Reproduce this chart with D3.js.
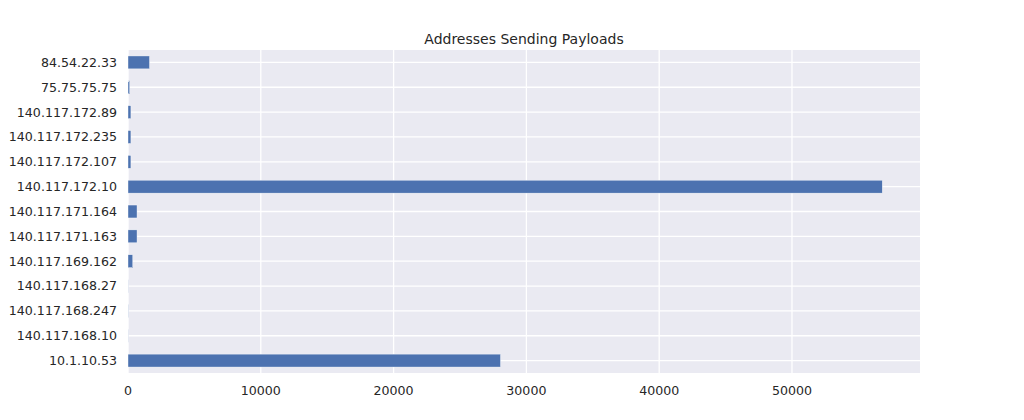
<!DOCTYPE html>
<html>
<head>
<meta charset="utf-8">
<script src="https://cdn.jsdelivr.net/npm/d3@7"></script>
<style>
  body { margin: 0; background: #fff; }
  text { font-family: "DejaVu Sans", sans-serif; fill: #262626; }
</style>
</head>
<body>
<svg id="chart" width="1024" height="420"></svg>
<script>
// addresses, bottom to top as in the picture
const addresses = ["10.1.10.53", "140.117.168.10", "140.117.168.247", "140.117.168.27",
  "140.117.169.162", "140.117.171.163", "140.117.171.164", "140.117.172.10",
  "140.117.172.107", "140.117.172.235", "140.117.172.89", "75.75.75.75", "84.54.22.33"];
const payloads = [28050, 15, 20, 15, 360, 680, 680, 56800, 220, 220, 220, 130, 1620];
const xTicks = [0, 10000, 20000, 30000, 40000, 50000];

let svg = d3.select("#chart"),
    margin = {top: 50, right: 104, bottom: 47, left: 128},
    width = 1024 - margin.left - margin.right,
    height = 420 - margin.top - margin.bottom,
    bar_color = "#4C72B0",
    bg_color = "#EAEAF2";

svg.append("text")
   .attr("x", margin.left + width / 2)
   .attr("y", 44)
   .attr("text-anchor", "middle")
   .style("font-size", "14px")
   .text("Addresses Sending Payloads");

let g = svg.append("g").attr("transform", "translate(" + margin.left + "," + margin.top + ")");

let x = d3.scaleLinear()
          .domain([0, d3.max(payloads) * 1.05])
          .range([0, width]);

// categories sit at integer positions, limits at -0.5 and n-0.5
let n = addresses.length;
let y = d3.scaleLinear()
          .domain([-0.5, n - 0.5])
          .range([height, 0]);
let step = height / n;

g.append("rect")
 .attr("width", width)
 .attr("height", height)
 .attr("fill", bg_color);

g.selectAll(".vgrid")
 .data(xTicks)
 .enter().append("line")
 .attr("class", "vgrid")
 .attr("x1", d => x(d)).attr("x2", d => x(d))
 .attr("y1", 0).attr("y2", height)
 .attr("stroke", "#fff")
 .attr("stroke-width", 1.3);

g.selectAll(".hgrid")
 .data(addresses)
 .enter().append("line")
 .attr("class", "hgrid")
 .attr("x1", 0).attr("x2", width)
 .attr("y1", (d, i) => y(i)).attr("y2", (d, i) => y(i))
 .attr("stroke", "#fff")
 .attr("stroke-width", 1.3);

g.selectAll(".bar")
 .data(payloads)
 .enter().append("rect")
 .attr("class", "bar")
 .attr("x", x(0))
 .attr("y", (d, i) => y(i) - step * 0.26)
 .attr("width", d => x(d) - x(0))
 .attr("height", step * 0.52)
 .attr("fill", bar_color)
 .attr("stroke", "#fff")
 .attr("stroke-width", 0.4);

// y labels
g.selectAll(".ylab")
 .data(addresses)
 .enter().append("text")
 .attr("class", "ylab")
 .attr("x", -11)
 .attr("y", (d, i) => y(i))
 .attr("dy", "0.35em")
 .attr("text-anchor", "end")
 .style("font-size", "12.6px")
 .text(d => d);

// x labels
g.selectAll(".xlab")
 .data(xTicks)
 .enter().append("text")
 .attr("class", "xlab")
 .attr("x", d => x(d))
 .attr("y", height + 13)
 .attr("dy", "0.71em")
 .attr("text-anchor", "middle")
 .style("font-size", "12.6px")
 .text(d => d);
</script>
</body>
</html>
